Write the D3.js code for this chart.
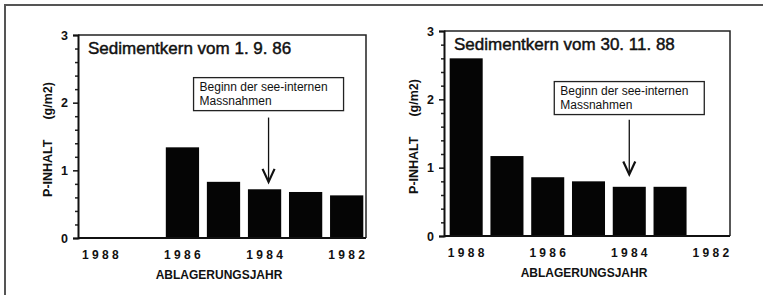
<!DOCTYPE html>
<html lang="de">
<head>
<meta charset="utf-8">
<title>P-Inhalt Sedimentkerne</title>
<script src="https://d3js.org/d3.v7.min.js"></script>
<style>
  body { margin: 0; background: #fff; }
  svg text { font-family: "Liberation Sans", Arial, Helvetica, sans-serif; fill: #111; }
</style>
</head>
<body>
<script>
// Daten
var years = ["1988", "1987", "1986", "1985", "1984", "1983", "1982"];
var yearLabels = ["1988", "1986", "1984", "1982"];
var kern1986 = [0, 0, 1.34, 0.83, 0.72, 0.68, 0.63];
var kern1988 = [2.6, 1.17, 0.86, 0.80, 0.72, 0.72, 0];
var titles = ["Sedimentkern vom 1. 9. 86", "Sedimentkern vom 30. 11. 88"];
var yTicks = [0, 1, 2, 3];
var noteLines = ["Beginn der see-internen", "Massnahmen"];
var noteYear = "1984";

var W = 763, H = 295;
var svg = d3.select("body").append("svg")
  .attr("width", W)
  .attr("height", H);

// Rahmen (nur oben und links sichtbar)
svg.append("path")
  .attr("d", "M5," + H + "V5H" + W)
  .attr("fill", "none")
  .attr("stroke", "#555")
  .attr("stroke-width", 2);

var panels = [
  { values: kern1986, title: titles[0], x0: 78, x1: 366, y0: 35, y1: 238,
    noteTop: 2.37, arrowTop: 1.78, arrowEnd: 0.83, arrowDx: 4 },
  { values: kern1988, title: titles[1], x0: 444, x1: 730, y0: 31, y1: 236,
    noteTop: 2.26, arrowTop: 1.7, arrowEnd: 0.9, arrowDx: 0 }
];

panels.forEach(function (p) { drawPanel(p); });

function drawPanel(p) {
  var g = svg.append("g");

  var x = d3.scaleBand()
    .domain(years)
    .range([p.x0 + 2, p.x1 + 1])
    .paddingInner(0.19)
    .paddingOuter(0.09);

  var y = d3.scaleLinear()
    .domain([0, 3])
    .range([p.y1, p.y0]);

  // Balken
  g.selectAll("rect.bar")
    .data(p.values)
    .enter()
    .append("rect")
    .attr("class", "bar")
    .attr("x", function (d, i) { return x(years[i]); })
    .attr("y", function (d) { return y(d); })
    .attr("width", x.bandwidth())
    .attr("height", function (d) { return y(0) - y(d); })
    .attr("fill", "#050505");

  // Kasten oben und rechts
  g.append("path")
    .attr("d", "M" + p.x0 + "," + p.y0 + "H" + p.x1 + "V" + p.y1)
    .attr("fill", "none")
    .attr("stroke", "#222")
    .attr("stroke-width", 1.5);

  // y-Achse mit Nebenstrichen
  var minor = d3.range(0, 3.01, 0.2).filter(function (v) {
    return Math.abs(v - Math.round(v)) > 0.01;
  });
  var ayMinor = g.append("g")
    .attr("transform", "translate(" + p.x0 + ",0)")
    .call(d3.axisLeft(y).tickValues(minor).tickSize(3).tickFormat(""));
  ayMinor.select(".domain").remove();
  ayMinor.selectAll("line").attr("stroke", "#222").attr("stroke-width", 1.5);

  var ay = g.append("g")
    .attr("transform", "translate(" + p.x0 + ",0)")
    .call(d3.axisLeft(y).tickValues(yTicks).tickSize(5).tickPadding(5)
      .tickFormat(d3.format("d")));
  ay.select(".domain").attr("stroke", "#111").attr("stroke-width", 2);
  ay.selectAll("line").attr("stroke", "#111").attr("stroke-width", 1.5);
  ay.selectAll("text")
    .style("font-size", "12.5px")
    .style("font-weight", "bold")
    .attr("fill", "#111");

  // x-Achse (nur Grundlinie und Beschriftung)
  var ax = g.append("g")
    .attr("transform", "translate(0," + p.y1 + ")")
    .call(d3.axisBottom(x).tickValues(yearLabels).tickSize(0).tickPadding(12));
  ax.select(".domain").attr("d", "M" + p.x0 + ",0H" + p.x1)
    .attr("stroke", "#111").attr("stroke-width", 2);
  ax.selectAll("text")
    .attr("dx", 1.6)
    .style("font-size", "12px")
    .style("font-weight", "bold")
    .style("letter-spacing", "3.3px")
    .attr("fill", "#111");

  var cx = (p.x0 + p.x1) / 2;
  g.append("text")
    .attr("x", cx - 3)
    .attr("y", p.y1 + 41)
    .attr("text-anchor", "middle")
    .style("font-size", "12px")
    .style("font-weight", "bold")
    .text("ABLAGERUNGSJAHR");

  // y-Titel
  var cy = (p.y0 + p.y1) / 2 + 3;
  var yt = g.append("text")
    .attr("transform", "translate(" + (p.x0 - 26) + "," + cy + ") rotate(-90)")
    .attr("text-anchor", "middle")
    .style("font-size", "12.5px")
    .style("font-weight", "bold");
  yt.append("tspan").text("P-INHALT");
  yt.append("tspan").attr("dx", 20).text("(g/m2)");

  // Titel im Diagramm
  g.append("text")
    .attr("x", p.x0 + 10)
    .attr("y", p.y0 + 18.5)
    .style("font-size", "17px")
    .attr("stroke", "#111")
    .attr("stroke-width", 0.45)
    .text(p.title);

  // Anmerkung mit Pfeil
  var ax0 = x(noteYear) + x.bandwidth() / 2 + p.arrowDx;
  var boxW = 150, boxH = 33;
  var by = y(p.noteTop);
  g.append("rect")
    .attr("x", ax0 - boxW / 2)
    .attr("y", by)
    .attr("width", boxW)
    .attr("height", boxH)
    .attr("fill", "#fff")
    .attr("stroke", "#222")
    .attr("stroke-width", 1.3);
  g.selectAll("text.note")
    .data(noteLines)
    .enter()
    .append("text")
    .attr("class", "note")
    .attr("x", ax0 - boxW / 2 + 6)
    .attr("y", function (d, i) { return by + 13.5 + i * 14; })
    .style("font-size", "12px")
    .attr("fill", "#222")
    .text(function (d) { return d; });

  var ya = y(p.arrowTop), yb = y(p.arrowEnd);
  g.append("path")
    .attr("d", "M" + ax0 + "," + ya + "V" + yb)
    .attr("stroke", "#111")
    .attr("stroke-width", 1.3)
    .attr("fill", "none");
  g.append("path")
    .attr("d", "M" + (ax0 - 6) + "," + (yb - 13) + "L" + ax0 + "," + yb + "L" + (ax0 + 6) + "," + (yb - 13))
    .attr("stroke", "#111")
    .attr("stroke-width", 2.2)
    .attr("fill", "none");
}
</script>
</body>
</html>
